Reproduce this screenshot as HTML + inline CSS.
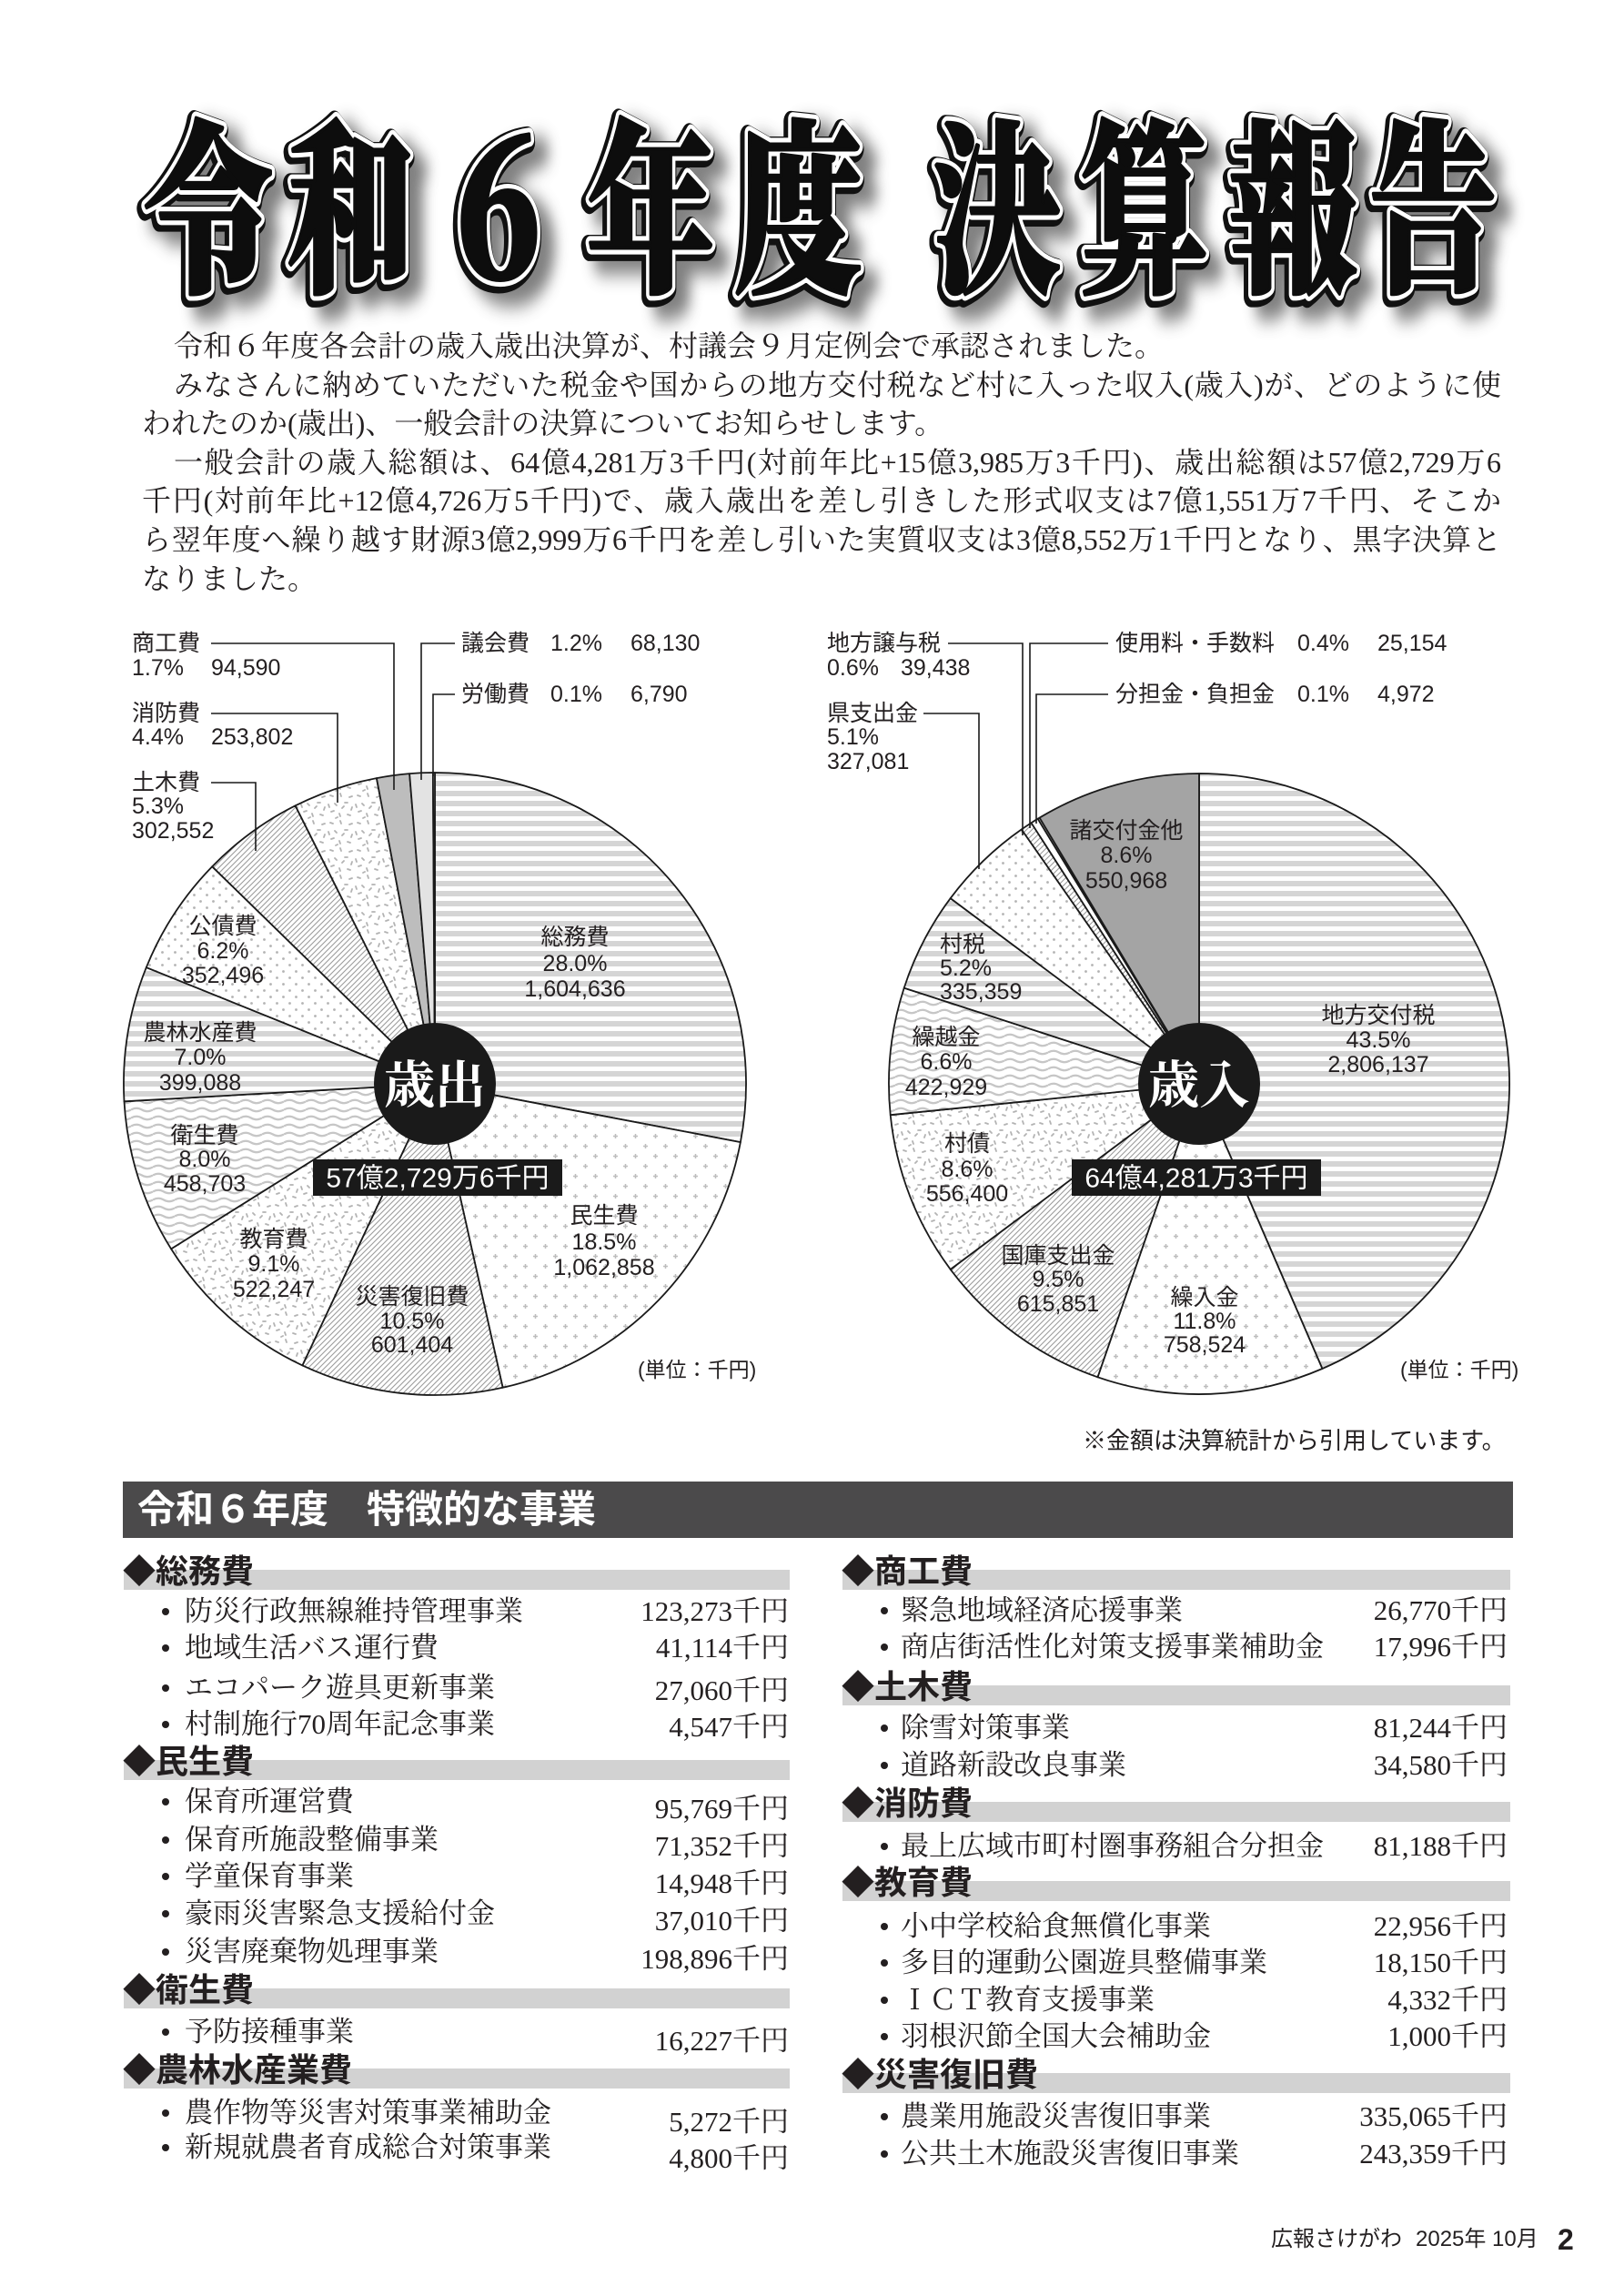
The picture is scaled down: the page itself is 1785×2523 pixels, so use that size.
<!DOCTYPE html>
<html lang="ja">
<head>
<meta charset="utf-8">
<style>
html,body{margin:0;padding:0;background:#fff;}
#pg{position:relative;width:1785px;height:2523px;overflow:hidden;background:#fff;color:#231f20;}
.bd{position:absolute;left:156px;top:359px;width:1494px;font-size:32px;line-height:42.6px;font-family:"Liberation Serif","Noto Serif CJK SC",serif;color:#231f20;}
.bd div{height:42.6px;}
.j{text-align:justify;text-align-last:justify;}
.hb{position:absolute;left:135px;top:1628px;width:1528px;height:62px;background:#4b4a4b;}
.ht{position:absolute;left:151px;top:1628px;height:62px;line-height:62px;font-size:42px;font-weight:bold;color:#fff;font-family:"Liberation Sans","Noto Sans CJK JP",sans-serif;white-space:nowrap;}
.gb{position:absolute;height:22px;background:#d2d2d2;}
.hd{position:absolute;height:40px;line-height:40px;font-size:36px;font-weight:bold;font-family:"Liberation Sans","Noto Sans CJK JP",sans-serif;color:#231f20;white-space:nowrap;}
.it{position:absolute;height:40px;line-height:40px;font-size:31px;font-family:"Liberation Serif","Noto Serif CJK SC",serif;color:#231f20;white-space:nowrap;}
.lv{right:918px;text-align:right;}
.rv{right:128px;text-align:right;}
.b{position:absolute;width:8px;height:8px;border-radius:50%;background:#231f20;}
.sans{position:absolute;font-family:"Liberation Sans","Noto Sans CJK JP",sans-serif;white-space:nowrap;color:#231f20;}
</style>
</head>
<body>
<div id="pg">

<!-- Title -->
<svg style="position:absolute;left:0;top:0" width="1785" height="420">
<defs>
<filter id="bl" x="-10%" y="-30%" width="120%" height="160%"><feGaussianBlur stdDeviation="7"/></filter>
</defs>
<g font-family="'Noto Serif CJK SC','Noto Serif CJK JP',serif" font-weight="900" font-size="140" text-anchor="middle" stroke-linejoin="round">
<g transform="translate(12,320) scale(1,1.45)" fill="#6a6a6a" stroke="#6a6a6a" stroke-width="18" filter="url(#bl)" opacity="0.85">
<text x="231" y="0">令</text><text x="386" y="0">和</text><text x="548" y="0">６</text><text x="715" y="0">年</text><text x="877" y="0">度</text><text x="1096" y="0">決</text><text x="1258" y="0">算</text><text x="1421" y="0">報</text><text x="1575" y="0">告</text>
</g>
<g transform="translate(-2,307) scale(1,1.45)" fill="#111" stroke="#111" stroke-width="16">
<text x="231" y="0">令</text><text x="386" y="0">和</text><text x="548" y="0">６</text><text x="715" y="0">年</text><text x="877" y="0">度</text><text x="1096" y="0">決</text><text x="1258" y="0">算</text><text x="1421" y="0">報</text><text x="1575" y="0">告</text>
</g>
<g transform="translate(0,304) scale(1,1.45)" fill="#fff" stroke="#fff" stroke-width="10">
<text x="231" y="0">令</text><text x="386" y="0">和</text><text x="548" y="0">６</text><text x="715" y="0">年</text><text x="877" y="0">度</text><text x="1096" y="0">決</text><text x="1258" y="0">算</text><text x="1421" y="0">報</text><text x="1575" y="0">告</text>
</g>
<g transform="translate(0,304) scale(1,1.45)" fill="#0d0d0d" stroke="#0d0d0d" stroke-width="3">
<text x="231" y="0">令</text><text x="386" y="0">和</text><text x="548" y="0">６</text><text x="715" y="0">年</text><text x="877" y="0">度</text><text x="1096" y="0">決</text><text x="1258" y="0">算</text><text x="1421" y="0">報</text><text x="1575" y="0">告</text>
</g>
</g>
</svg>

<!-- Body text -->
<div class="bd">
<div style="padding-left:35px">令和６年度各会計の歳入歳出決算が、村議会９月定例会で承認されました。</div>
<div class="j" style="padding-left:35px">みなさんに納めていただいた税金や国からの地方交付税など村に入った収入(歳入)が、どのように使</div>
<div>われたのか(歳出)、一般会計の決算についてお知らせします。</div>
<div class="j" style="padding-left:35px">一般会計の歳入総額は、64億4,281万3千円(対前年比+15億3,985万3千円)、歳出総額は57億2,729万6</div>
<div class="j">千円(対前年比+12億4,726万5千円)で、歳入歳出を差し引きした形式収支は7億1,551万7千円、そこか</div>
<div class="j">ら翌年度へ繰り越す財源3億2,999万6千円を差し引いた実質収支は3億8,552万1千円となり、黒字決算と</div>
<div>なりました。</div>
</div>

<!-- Charts -->
<svg style="position:absolute;left:0;top:0" width="1785" height="1620">
<defs>
<pattern id="hs" patternUnits="userSpaceOnUse" width="20" height="11"><rect width="20" height="11" fill="#fff"/><rect width="20" height="6" fill="#d5d5d5"/></pattern>
<pattern id="pl" patternUnits="userSpaceOnUse" width="22" height="22"><rect width="22" height="22" fill="#fff"/><path d="M5.5 3v5M3 5.5h5M16.5 14v5M14 16.5h5" stroke="#bdbdbd" stroke-width="1.5"/></pattern>
<pattern id="ht" patternUnits="userSpaceOnUse" width="6" height="6"><rect width="6" height="6" fill="#fff"/><path d="M-1 7L7 -1M-1 1L1 -1M5 7L7 5" stroke="#9c9c9c" stroke-width="1.1"/></pattern>
<pattern id="wv" patternUnits="userSpaceOnUse" width="24" height="9"><rect width="24" height="9" fill="#fff"/><path d="M0 4.5Q6 1 12 4.5T24 4.5" fill="none" stroke="#c6c6c6" stroke-width="2.2"/></pattern>
<pattern id="dt" patternUnits="userSpaceOnUse" width="14" height="14"><rect width="14" height="14" fill="#fff"/><circle cx="3.5" cy="3.5" r="1.4" fill="#b3b3b3"/><circle cx="10.5" cy="10.5" r="1.4" fill="#b3b3b3"/></pattern>
<pattern id="sp" patternUnits="userSpaceOnUse" width="30" height="30"><rect width="30" height="30" fill="#fff"/><path d="M3 4l3 1M14 2l1 3M24 6l3-1M8 13l2 2M19 12l3 0M27 17l-1 3M4 22l3-1M13 24l1 3M22 25l3 1M9 29l2-1M16 18l2-2M1 14l1 3" stroke="#b3b3b3" stroke-width="1.8" stroke-linecap="round"/></pattern>
</defs>

<!-- Left pie 歳出 -->
<g stroke="#1a1a1a" stroke-width="1.8" stroke-linejoin="round">
<path d="M478 1191L478 849A342 342 0 0 1 813.9 1255.1Z" fill="url(#hs)"/>
<path d="M478 1191L813.9 1255.1A342 342 0 0 1 552.6 1524.8Z" fill="url(#pl)"/>
<path d="M478 1191L552.6 1524.8A342 342 0 0 1 332.4 1500.4Z" fill="url(#ht)"/>
<path d="M478 1191L332.4 1500.4A342 342 0 0 1 188.1 1372.4Z" fill="url(#sp)"/>
<path d="M478 1191L188.1 1372.4A342 342 0 0 1 136.5 1210.3Z" fill="url(#wv)"/>
<path d="M478 1191L136.5 1210.3A342 342 0 0 1 160.8 1063.1Z" fill="url(#hs)"/>
<path d="M478 1191L160.8 1063.1A342 342 0 0 1 233.2 952.2Z" fill="url(#dt)"/>
<path d="M478 1191L233.2 952.2A342 342 0 0 1 324.6 885.3Z" fill="url(#ht)"/>
<path d="M478 1191L324.6 885.3A342 342 0 0 1 413.9 855.1Z" fill="url(#sp)"/>
<path d="M478 1191L413.9 855.1A342 342 0 0 1 450.1 850.1Z" fill="#bdbdbd"/>
<path d="M478 1191L450.1 850.1A342 342 0 0 1 475.9 849Z" fill="#e3e3e3"/>
<path d="M478 1191L475.9 849A342 342 0 0 1 478 849Z" fill="#fff"/>
</g>

<!-- Right pie 歳入 -->
<g stroke="#1a1a1a" stroke-width="1.8" stroke-linejoin="round">
<path d="M1318 1191L1318 850A341 341 0 0 1 1453.4 1504Z" fill="url(#hs)"/>
<path d="M1318 1191L1453.4 1504A341 341 0 0 1 1206.5 1513.3Z" fill="url(#pl)"/>
<path d="M1318 1191L1206.5 1513.3A341 341 0 0 1 1044.7 1394.9Z" fill="url(#ht)"/>
<path d="M1318 1191L1044.7 1394.9A341 341 0 0 1 978.7 1225.2Z" fill="url(#sp)"/>
<path d="M1318 1191L978.7 1225.2A341 341 0 0 1 993.7 1085.6Z" fill="url(#wv)"/>
<path d="M1318 1191L993.7 1085.6A341 341 0 0 1 1044.7 987.1Z" fill="url(#hs)"/>
<path d="M1318 1191L1044.7 987.1A341 341 0 0 1 1122.8 911.4Z" fill="url(#dt)"/>
<path d="M1318 1191L1122.8 911.4A341 341 0 0 1 1133.5 904.2Z" fill="url(#ht)"/>
<path d="M1318 1191L1133.5 904.2A341 341 0 0 1 1140.7 899.7Z" fill="#fff"/>
<path d="M1318 1191L1140.7 899.7A341 341 0 0 1 1142.6 898.6Z" fill="#fff"/>
<path d="M1318 1191L1142.6 898.6A341 341 0 0 1 1318 850Z" fill="#a4a4a4"/>
</g>

<!-- leader lines -->
<g stroke="#1a1a1a" stroke-width="1.6" fill="none">
<path d="M232 707H433V868"/>
<path d="M232 784H371V882"/>
<path d="M232 860H281V935"/>
<path d="M500 707H463V857"/>
<path d="M500 763H476V853"/>
<path d="M1042 707H1124V918"/>
<path d="M1015 784H1076V955"/>
<path d="M1218 707H1132V910"/>
<path d="M1218 763H1139V905"/>
</g>

<!-- center circles -->
<circle cx="478" cy="1191" r="67" fill="#1a1a1a"/>
<circle cx="1318" cy="1191" r="67" fill="#1a1a1a"/>
<g font-family="'Noto Serif CJK SC','Noto Serif CJK JP',serif" font-weight="bold" font-size="56" fill="#fff" text-anchor="middle" dominant-baseline="central">
<text x="478" y="1189">歳出</text>
<text x="1318" y="1189">歳入</text>
</g>
<rect x="344" y="1274" width="274" height="40" fill="#1a1a1a"/>
<rect x="1178" y="1274" width="274" height="40" fill="#1a1a1a"/>
<g font-family="'Liberation Sans','Noto Sans CJK JP',sans-serif" font-size="30" fill="#fff" text-anchor="middle" dominant-baseline="central">
<text x="481" y="1295">57億2,729万6千円</text>
<text x="1315" y="1295">64億4,281万3千円</text>
</g>

<!-- inner labels -->
<g font-family="'Liberation Sans','Noto Sans CJK JP',sans-serif" font-size="25" fill="#231f20" text-anchor="middle" dominant-baseline="central">
<text x="632" y="1030">総務費</text><text x="632" y="1059">28.0%</text><text x="632" y="1087">1,604,636</text>
<text x="664" y="1336">民生費</text><text x="664" y="1365">18.5%</text><text x="664" y="1393">1,062,858</text>
<text x="453" y="1425">災害復旧費</text><text x="453" y="1452">10.5%</text><text x="453" y="1478">601,404</text>
<text x="301" y="1362">教育費</text><text x="301" y="1389">9.1%</text><text x="301" y="1417">522,247</text>
<text x="225" y="1248">衛生費</text><text x="225" y="1274">8.0%</text><text x="225" y="1301">458,703</text>
<text x="220" y="1135">農林水産費</text><text x="220" y="1162">7.0%</text><text x="220" y="1190">399,088</text>
<text x="245" y="1018">公債費</text><text x="245" y="1045">6.2%</text><text x="245" y="1072">352,496</text>

<text x="1515" y="1116">地方交付税</text><text x="1515" y="1143">43.5%</text><text x="1515" y="1170">2,806,137</text>
<text x="1324" y="1426">繰入金</text><text x="1324" y="1452">11.8%</text><text x="1324" y="1478">758,524</text>
<text x="1163" y="1380">国庫支出金</text><text x="1163" y="1406">9.5%</text><text x="1163" y="1433">615,851</text>
<text x="1063" y="1257">村債</text><text x="1063" y="1285">8.6%</text><text x="1063" y="1312">556,400</text>
<text x="1040" y="1140">繰越金</text><text x="1040" y="1167">6.6%</text><text x="1040" y="1195">422,929</text>
<text x="1238" y="913">諸交付金他</text><text x="1238" y="940">8.6%</text><text x="1238" y="968">550,968</text>
</g>
<g font-family="'Liberation Sans','Noto Sans CJK JP',sans-serif" font-size="25" fill="#231f20" dominant-baseline="central">
<text x="1033" y="1038">村税</text><text x="1033" y="1064">5.2%</text><text x="1033" y="1090">335,359</text>

<text x="145" y="707">商工費</text><text x="145" y="734">1.7%</text><text x="232" y="734">94,590</text>
<text x="145" y="784">消防費</text><text x="145" y="810">4.4%</text><text x="232" y="810">253,802</text>
<text x="145" y="860">土木費</text><text x="145" y="886">5.3%</text><text x="145" y="913">302,552</text>
<text x="507" y="707">議会費</text><text x="605" y="707">1.2%</text><text x="693" y="707">68,130</text>
<text x="507" y="763">労働費</text><text x="605" y="763">0.1%</text><text x="693" y="763">6,790</text>

<text x="909" y="707">地方譲与税</text><text x="909" y="734">0.6%</text><text x="990" y="734">39,438</text>
<text x="909" y="784">県支出金</text><text x="909" y="810">5.1%</text><text x="909" y="837">327,081</text>
<text x="1226" y="707">使用料・手数料</text><text x="1426" y="707">0.4%</text><text x="1514" y="707">25,154</text>
<text x="1226" y="763">分担金・負担金</text><text x="1426" y="763">0.1%</text><text x="1514" y="763">4,972</text>
</g>
<g font-family="'Liberation Sans','Noto Sans CJK JP',sans-serif" font-size="23" fill="#231f20" dominant-baseline="central">
<text x="701" y="1505">(単位：千円)</text>
<text x="1539" y="1505">(単位：千円)</text>
</g>
</svg>

<div class="sans" style="left:1190px;top:1566px;font-size:26px;line-height:34px;">※金額は決算統計から引用しています。</div>

<!-- Section header -->
<div class="hb"></div>
<div class="ht">令和６年度　特徴的な事業</div>

<!-- Left column headings -->
<div class="gb" style="left:136px;width:732px;top:1725px"></div>
<div class="hd" style="left:135px;top:1707px">◆総務費</div>
<div class="gb" style="left:136px;width:732px;top:1934px"></div>
<div class="hd" style="left:135px;top:1916px">◆民生費</div>
<div class="gb" style="left:136px;width:732px;top:2185px"></div>
<div class="hd" style="left:135px;top:2167px">◆衛生費</div>
<div class="gb" style="left:136px;width:732px;top:2273px"></div>
<div class="hd" style="left:135px;top:2255px">◆農林水産業費</div>

<!-- Right column headings -->
<div class="gb" style="left:926px;width:734px;top:1725px"></div>
<div class="hd" style="left:925px;top:1707px">◆商工費</div>
<div class="gb" style="left:926px;width:734px;top:1852px"></div>
<div class="hd" style="left:925px;top:1834px">◆土木費</div>
<div class="gb" style="left:926px;width:734px;top:1980px"></div>
<div class="hd" style="left:925px;top:1962px">◆消防費</div>
<div class="gb" style="left:926px;width:734px;top:2067px"></div>
<div class="hd" style="left:925px;top:2049px">◆教育費</div>
<div class="gb" style="left:926px;width:734px;top:2278px"></div>
<div class="hd" style="left:925px;top:2260px">◆災害復旧費</div>

<!-- Left items -->
<i class="b" style="left:178px;top:1767px"></i><div class="it" style="left:203px;top:1751px">防災行政無線維持管理事業</div><div class="it lv" style="top:1751px">123,273千円</div>
<i class="b" style="left:178px;top:1807px"></i><div class="it" style="left:203px;top:1791px">地域生活バス運行費</div><div class="it lv" style="top:1791px">41,114千円</div>
<i class="b" style="left:178px;top:1851px"></i><div class="it" style="left:203px;top:1835px">エコパーク遊具更新事業</div><div class="it lv" style="top:1838px">27,060千円</div>
<i class="b" style="left:178px;top:1891px"></i><div class="it" style="left:203px;top:1875px">村制施行70周年記念事業</div><div class="it lv" style="top:1878px">4,547千円</div>

<i class="b" style="left:178px;top:1976px"></i><div class="it" style="left:203px;top:1960px">保育所運営費</div><div class="it lv" style="top:1968px">95,769千円</div>
<i class="b" style="left:178px;top:2018px"></i><div class="it" style="left:203px;top:2002px">保育所施設整備事業</div><div class="it lv" style="top:2009px">71,352千円</div>
<i class="b" style="left:178px;top:2058px"></i><div class="it" style="left:203px;top:2042px">学童保育事業</div><div class="it lv" style="top:2050px">14,948千円</div>
<i class="b" style="left:178px;top:2099px"></i><div class="it" style="left:203px;top:2083px">豪雨災害緊急支援給付金</div><div class="it lv" style="top:2091px">37,010千円</div>
<i class="b" style="left:178px;top:2141px"></i><div class="it" style="left:203px;top:2125px">災害廃棄物処理事業</div><div class="it lv" style="top:2133px">198,896千円</div>

<i class="b" style="left:178px;top:2229px"></i><div class="it" style="left:203px;top:2213px">予防接種事業</div><div class="it lv" style="top:2223px">16,227千円</div>

<i class="b" style="left:178px;top:2318px"></i><div class="it" style="left:203px;top:2302px">農作物等災害対策事業補助金</div><div class="it lv" style="top:2312px">5,272千円</div>
<i class="b" style="left:178px;top:2356px"></i><div class="it" style="left:203px;top:2340px">新規就農者育成総合対策事業</div><div class="it lv" style="top:2352px">4,800千円</div>

<!-- Right items -->
<i class="b" style="left:968px;top:1766px"></i><div class="it" style="left:990px;top:1750px">緊急地域経済応援事業</div><div class="it rv" style="top:1750px">26,770千円</div>
<i class="b" style="left:968px;top:1806px"></i><div class="it" style="left:990px;top:1790px">商店街活性化対策支援事業補助金</div><div class="it rv" style="top:1790px">17,996千円</div>

<i class="b" style="left:968px;top:1895px"></i><div class="it" style="left:990px;top:1879px">除雪対策事業</div><div class="it rv" style="top:1879px">81,244千円</div>
<i class="b" style="left:968px;top:1936px"></i><div class="it" style="left:990px;top:1920px">道路新設改良事業</div><div class="it rv" style="top:1920px">34,580千円</div>

<i class="b" style="left:968px;top:2025px"></i><div class="it" style="left:990px;top:2009px">最上広域市町村圏事務組合分担金</div><div class="it rv" style="top:2009px">81,188千円</div>

<i class="b" style="left:968px;top:2113px"></i><div class="it" style="left:990px;top:2097px">小中学校給食無償化事業</div><div class="it rv" style="top:2097px">22,956千円</div>
<i class="b" style="left:968px;top:2153px"></i><div class="it" style="left:990px;top:2137px">多目的運動公園遊具整備事業</div><div class="it rv" style="top:2137px">18,150千円</div>
<i class="b" style="left:968px;top:2194px"></i><div class="it" style="left:990px;top:2178px">ＩＣＴ教育支援事業</div><div class="it rv" style="top:2178px">4,332千円</div>
<i class="b" style="left:968px;top:2234px"></i><div class="it" style="left:990px;top:2218px">羽根沢節全国大会補助金</div><div class="it rv" style="top:2218px">1,000千円</div>

<i class="b" style="left:968px;top:2322px"></i><div class="it" style="left:990px;top:2306px">農業用施設災害復旧事業</div><div class="it rv" style="top:2306px">335,065千円</div>
<i class="b" style="left:968px;top:2363px"></i><div class="it" style="left:990px;top:2347px">公共土木施設災害復旧事業</div><div class="it rv" style="top:2347px">243,359千円</div>

<!-- Footer -->
<div class="sans" style="left:1397px;top:2446px;font-size:24px;line-height:30px;">広報さけがわ</div>
<div class="sans" style="left:1556px;top:2446px;font-size:24px;line-height:30px;">2025年 10月</div>
<div class="sans" style="left:1712px;top:2442px;font-size:32px;line-height:38px;font-weight:bold;">2</div>

</div>
</body>
</html>
